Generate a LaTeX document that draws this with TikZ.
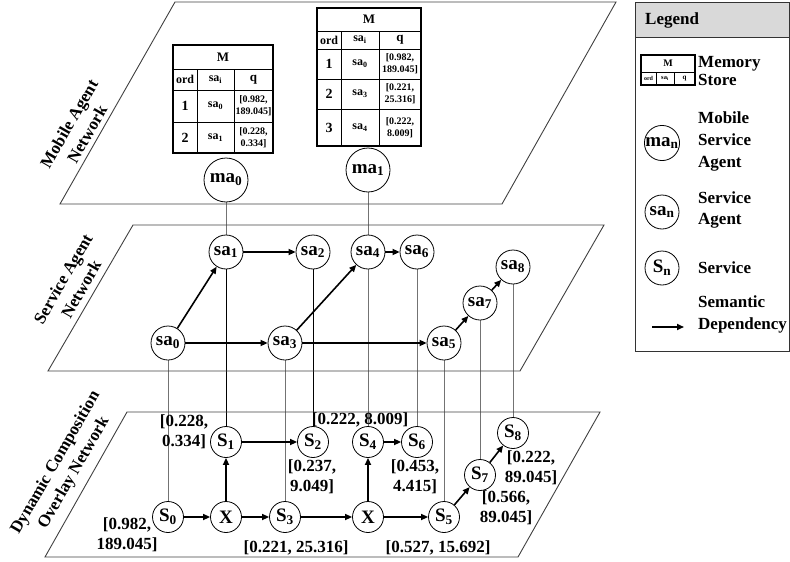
\documentclass[tikz,border=0pt]{standalone}
\usepackage{fontspec}
\setmainfont{Liberation Serif}
\usetikzlibrary{arrows.meta,backgrounds}
\newcommand{\mysub}[1]{\textsubscript{#1}}
\newcommand{\fs}[2]{\fontsize{#1}{#2}\selectfont\bfseries}
\begin{document}
\begin{tikzpicture}[x=1pt,y=-1pt,
  plane/.style={draw=black!75, line width=0.9pt},
  agent/.style={circle, draw, line width=0.8pt, fill=white, minimum size=34pt, inner sep=0pt, font=\fs{19}{20}},
  svc/.style={agent, minimum size=31pt},
  mob/.style={agent, minimum size=44pt, font=\fs{19}{20}},
  dep/.style={line width=1.6pt, -{Triangle[length=7pt,width=6pt]}},
  vlink/.style={line width=0.8pt, draw=black!55},
  vlinkd/.style={line width=0.8pt, draw=black},
  lbl/.style={font=\fs{17}{20}, align=center, inner sep=0pt},
  planelbl/.style={font=\fs{17}{21}, align=center, inner sep=0pt, rotate=60},
  touter/.style={draw, line width=1.5pt},
  tinner/.style={draw, line width=0.9pt},
  cell/.style={inner sep=0pt, align=center},
  legtxt/.style={font=\fs{17}{20}, align=left, anchor=west, inner sep=0pt}
]
\useasboundingbox (0,0) rectangle (790,562);

% ---------- planes ----------
\draw[plane] (175,2) -- (616,2) -- (502,204) -- (60,204) -- cycle;
\draw[plane] (133,225) -- (604,225) -- (520,371) -- (48,371) -- cycle;
\draw[plane] (127,412) -- (600,412) -- (518,557) -- (45,557) -- cycle;

\node[planelbl] (lblMA) at (78,129) {Mobile Agent\\Network};
\node[planelbl] (lblSA) at (72,284) {Service Agent\\Network};
\node[planelbl] (lblDC) at (65,468) {Dynamic Composition\\Overlay Network};

% ---------- memory table 1 ----------
\draw[tinner] (173,69) -- (273,69) (173,90) -- (273,90) (173,122) -- (273,122)
  (197,69) -- (197,153) (234,69) -- (234,153);
\draw[touter] (173,45) rectangle (273,153);
\node[cell, font=\fs{13}{14}] (t1h) at (223,57) {M};
\node[cell, font=\fs{12}{13}] (t1c1) at (185,79.5) {ord};
\node[cell, font=\fs{12}{13}] (t1c2) at (215.5,79.5) {sa\mysub{i}};
\node[cell, font=\fs{13}{14}] (t1c3) at (253.5,79.5) {q};
\node[cell, font=\fs{14}{14}] (t1a1) at (185,106) {1};
\node[cell, font=\fs{12}{13}] (t1a2) at (215.5,106) {sa\mysub{0}};
\node[cell, font=\fs{10}{12}] (t1a3) at (253.5,106) {[0.982,\\189.045]};
\node[cell, font=\fs{14}{14}] (t1b1) at (185,137.5) {2};
\node[cell, font=\fs{12}{13}] (t1b2) at (215.5,137.5) {sa\mysub{1}};
\node[cell, font=\fs{10}{12}] (t1b3) at (253.5,137.5) {[0.228,\\0.334]};

% ---------- memory table 2 ----------
\draw[tinner] (317,31) -- (421,31) (317,49) -- (421,49) (317,79) -- (421,79) (317,109) -- (421,109)
  (341,31) -- (341,146) (379,31) -- (379,146);
\draw[touter] (317,8) rectangle (421,146);
\node[cell, font=\fs{13}{14}] (t2h) at (369,19.5) {M};
\node[cell, font=\fs{12}{13}] (t2c1) at (329,40) {ord};
\node[cell, font=\fs{12}{13}] (t2c2) at (360,40) {sa\mysub{i}};
\node[cell, font=\fs{13}{14}] (t2c3) at (400,40) {q};
\node[cell, font=\fs{14}{14}] (t2a1) at (329,64) {1};
\node[cell, font=\fs{12}{13}] (t2a2) at (360,64) {sa\mysub{0}};
\node[cell, font=\fs{10}{12}] (t2a3) at (400,64) {[0.982,\\189.045]};
\node[cell, font=\fs{14}{14}] (t2b1) at (329,94) {2};
\node[cell, font=\fs{12}{13}] (t2b2) at (360,94) {sa\mysub{3}};
\node[cell, font=\fs{10}{12}] (t2b3) at (400,94) {[0.221,\\25.316]};
\node[cell, font=\fs{14}{14}] (t2d1) at (329,127.5) {3};
\node[cell, font=\fs{12}{13}] (t2d2) at (360,127.5) {sa\mysub{4}};
\node[cell, font=\fs{10}{12}] (t2d3) at (400,127.5) {[0.222,\\8.009]};

% ---------- mobile agents ----------
\node[mob] (ma0) at (226,180) {ma\mysub{0}};
\node[mob] (ma1) at (368,170) {ma\mysub{1}};

% ---------- service agents ----------
\node[agent] (sa0) at (168,343) {sa\mysub{0}};
\node[agent] (sa1) at (226,252) {sa\mysub{1}};
\node[agent] (sa2) at (313,252) {sa\mysub{2}};
\node[agent] (sa3) at (285,343) {sa\mysub{3}};
\node[agent] (sa4) at (368,252) {sa\mysub{4}};
\node[agent] (sa5) at (444,343) {sa\mysub{5}};
\node[agent] (sa6) at (417,252) {sa\mysub{6}};
\node[agent] (sa7) at (480,303) {sa\mysub{7}};
\node[agent] (sa8) at (513,267) {sa\mysub{8}};

% ---------- services ----------
\node[svc] (S0) at (168,517) {S\mysub{0}};
\node[svc] (X1) at (226,517) {X};
\node[svc] (S1) at (226,442) {S\mysub{1}};
\node[svc] (S2) at (313,442) {S\mysub{2}};
\node[svc] (S3) at (285,517) {S\mysub{3}};
\node[svc] (X2) at (368,517) {X};
\node[svc] (S4) at (368,442) {S\mysub{4}};
\node[svc] (S6) at (417,442) {S\mysub{6}};
\node[svc] (S5) at (444,517) {S\mysub{5}};
\node[svc] (S7) at (480,475) {S\mysub{7}};
\node[svc] (S8) at (513,433) {S\mysub{8}};

% ---------- vertical links ----------
\begin{scope}[on background layer]
\draw[vlink] (ma0) -- (sa1);
\draw[vlink] (ma1) -- (sa4);
\draw[vlink] (sa0) -- (S0);
\draw[vlinkd] (sa1) -- (S1);
\draw[vlinkd] (sa2) -- (S2);
\draw[vlink] (sa3) -- (S3);
\draw[vlink] (sa4) -- (S4);
\draw[vlink] (sa6) -- (S6);
\draw[vlink] (sa5) -- (S5);
\draw[vlink] (sa7) -- (S7);
\draw[vlink] (sa8) -- (S8);
\end{scope}

% ---------- dependencies ----------
\draw[dep] (sa0) -- (sa1);
\draw[dep] (sa1) -- (sa2);
\draw[dep] (sa0) -- (sa3);
\draw[dep] (sa3) -- (sa4);
\draw[dep] (sa3) -- (sa5);
\draw[dep] (sa4) -- (sa6);
\draw[dep] (sa5) -- (sa7);
\draw[dep] (sa7) -- (sa8);

\draw[dep] (S0) -- (X1);
\draw[dep] (X1) -- (S1);
\draw[dep] (S1) -- (S2);
\draw[dep] (X1) -- (S3);
\draw[dep] (S3) -- (X2);
\draw[dep] (X2) -- (S4);
\draw[dep] (S4) -- (S6);
\draw[dep] (X2) -- (S5);
\draw[dep] (S5) -- (S7);
\draw[dep] (S7) -- (S8);

% ---------- QoS labels ----------
\node[lbl] (qS1) at (184,432) {[0.228,\\0.334]};
\node[lbl] (qS4) at (360,420) {[0.222, 8.009]};
\node[lbl] (qS2) at (312,477) {[0.237,\\9.049]};
\node[lbl] (qS6) at (415,477) {[0.453,\\4.415]};
\node[lbl] (qS0) at (127,535) {[0.982,\\189.045]};
\node[lbl] (qS3) at (296,548) {[0.221, 25.316]};
\node[lbl] (qS5) at (438,548) {[0.527, 15.692]};
\node[lbl] (qS8) at (531,468) {[0.222,\\89.045]};
\node[lbl] (qS7) at (506,508) {[0.566,\\89.045]};

% ---------- legend ----------
\fill[black!15] (635,2) rectangle (789,37);
\draw[draw=black!80, line width=0.9pt] (635,37) -- (789,37);
\draw[draw=black!80, line width=0.9pt] (635,2) rectangle (789,351);
\node[legtxt] (legT) at (645,20) {Legend};

\draw[line width=0.7pt] (641,72) -- (695,72) (656,72) -- (656,85) (674,72) -- (674,85);
\draw[line width=1.1pt] (641,55) rectangle (695,85);
\node[cell, font=\fs{10}{11}] (lmh) at (668,63.5) {M};
\node[cell, font=\fs{6}{7}] (lm1) at (648.5,78.5) {ord};
\node[cell, font=\fs{6.5}{7}] (lm2) at (665,78.5) {sa\mysub{i}};
\node[cell, font=\fs{7}{7}] (lm3) at (684.5,78.5) {q};
\node[legtxt, font=\fs{17}{18}] (legM) at (698,71) {Memory\\Store};

\node[agent] (lma) at (662,143) {ma\mysub{n}};
\node[legtxt, font=\fs{17}{22}] (legMA) at (698,141) {Mobile\\Service\\Agent};
\node[agent] (lsa) at (662,212) {sa\mysub{n}};
\node[legtxt, font=\fs{17}{21}] (legSA) at (698,210) {Service\\Agent};
\node[agent] (lS) at (662,268) {S\mysub{n}};
\node[legtxt] (legS) at (698,268) {Service};
\coordinate (la1) at (652,327);
\coordinate (la2) at (684,327);
\draw[dep] (la1) -- (la2);
\node[legtxt, font=\fs{17}{22}] (legD) at (698,314) {Semantic\\Dependency};
\end{tikzpicture}
\end{document}
